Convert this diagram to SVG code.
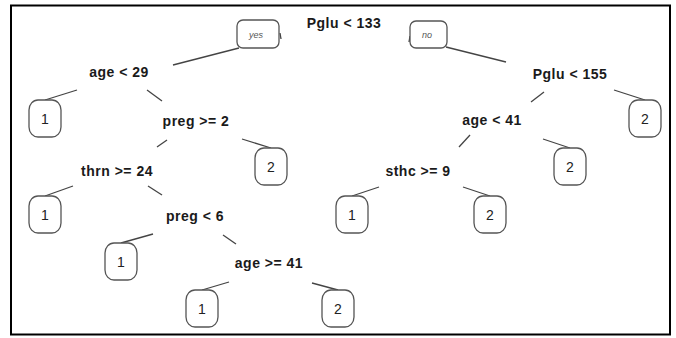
<svg xmlns="http://www.w3.org/2000/svg" width="676" height="338" viewBox="0 0 676 338">
<style>
.lbl{font-family:"Liberation Sans",Arial,sans-serif;font-weight:bold;font-size:14px;letter-spacing:0.5px;fill:#1a1a1a;text-anchor:middle}
.leaf rect{fill:#fff;stroke:#555;stroke-width:1.3}
.leaf text{font-family:"Liberation Sans",Arial,sans-serif;font-size:14px;fill:#222;text-anchor:middle}
.yn rect{fill:#fff;stroke:#555;stroke-width:1.3}
.yn text{font-family:"Liberation Sans",Arial,sans-serif;font-style:italic;font-size:9px;fill:#555;text-anchor:middle}
#connectors line{stroke:#444;stroke-width:1.3;fill:none}
</style>
<rect x="0" y="0" width="676" height="338" fill="#fff"/>
<rect x="11" y="5.5" width="659" height="329" fill="none" stroke="#000" stroke-width="2"/>
<g id="connectors">
<line x1="280" y1="33" x2="281" y2="39"/>
<line x1="410" y1="36" x2="409" y2="42"/>
<line x1="173" y1="65" x2="239" y2="48"/>
<line x1="446" y1="47" x2="506" y2="62"/>
<line x1="77" y1="90" x2="45" y2="100"/>
<line x1="147" y1="90" x2="162" y2="101"/>
<line x1="167" y1="140" x2="157" y2="147"/>
<line x1="242" y1="139" x2="271" y2="148"/>
<line x1="73" y1="186" x2="45" y2="196"/>
<line x1="148" y1="186" x2="162" y2="195"/>
<line x1="153" y1="234" x2="121" y2="243"/>
<line x1="223" y1="235" x2="236" y2="244"/>
<line x1="229" y1="282" x2="202" y2="290"/>
<line x1="312" y1="283" x2="338" y2="290"/>
<line x1="544" y1="92" x2="531" y2="102"/>
<line x1="614" y1="90" x2="645" y2="100"/>
<line x1="470" y1="135" x2="459" y2="147"/>
<line x1="543" y1="139" x2="570" y2="148"/>
<line x1="379" y1="187" x2="352" y2="196"/>
<line x1="463" y1="187" x2="490" y2="196"/>
</g>
<g id="yes" class="yn"><rect x="237" y="20" width="42" height="28" rx="6"/><text x="256" y="38">yes</text></g>
<g id="no" class="yn"><rect x="410" y="21" width="37" height="27" rx="6"/><text x="427" y="38">no</text></g>
<g id="n_root"><text class="lbl" x="344" y="28">Pglu &lt; 133</text></g>
<g id="n_age29"><text class="lbl" x="119" y="77">age &lt; 29</text></g>
<g id="n_preg2"><text class="lbl" x="196" y="126">preg &gt;= 2</text></g>
<g id="n_thrn24"><text class="lbl" x="117" y="176">thrn &gt;= 24</text></g>
<g id="n_preg6"><text class="lbl" x="195" y="221">preg &lt; 6</text></g>
<g id="n_age41b"><text class="lbl" x="269" y="268">age &gt;= 41</text></g>
<g id="n_pglu155"><text class="lbl" x="570" y="79">Pglu &lt; 155</text></g>
<g id="n_age41"><text class="lbl" x="492" y="125">age &lt; 41</text></g>
<g id="n_sthc9"><text class="lbl" x="418" y="176">sthc &gt;= 9</text></g>
<g id="leaf1" class="leaf"><rect x="29" y="100" width="32" height="37" rx="9" ry="10"/><text x="45" y="124">1</text></g>
<g id="leaf2" class="leaf"><rect x="255" y="148" width="32" height="37" rx="9" ry="10"/><text x="271" y="172">2</text></g>
<g id="leaf3" class="leaf"><rect x="29" y="196" width="32" height="37" rx="9" ry="10"/><text x="45" y="220">1</text></g>
<g id="leaf4" class="leaf"><rect x="105" y="243" width="32" height="37" rx="9" ry="10"/><text x="121" y="267">1</text></g>
<g id="leaf5" class="leaf"><rect x="186" y="290" width="32" height="37" rx="9" ry="10"/><text x="202" y="314">1</text></g>
<g id="leaf6" class="leaf"><rect x="322" y="290" width="32" height="37" rx="9" ry="10"/><text x="338" y="314">2</text></g>
<g id="leaf7" class="leaf"><rect x="629" y="100" width="32" height="37" rx="9" ry="10"/><text x="645" y="124">2</text></g>
<g id="leaf8" class="leaf"><rect x="554" y="148" width="32" height="37" rx="9" ry="10"/><text x="570" y="172">2</text></g>
<g id="leaf9" class="leaf"><rect x="336" y="196" width="32" height="37" rx="9" ry="10"/><text x="352" y="220">1</text></g>
<g id="leaf10" class="leaf"><rect x="474" y="196" width="32" height="37" rx="9" ry="10"/><text x="490" y="220">2</text></g>
</svg>
